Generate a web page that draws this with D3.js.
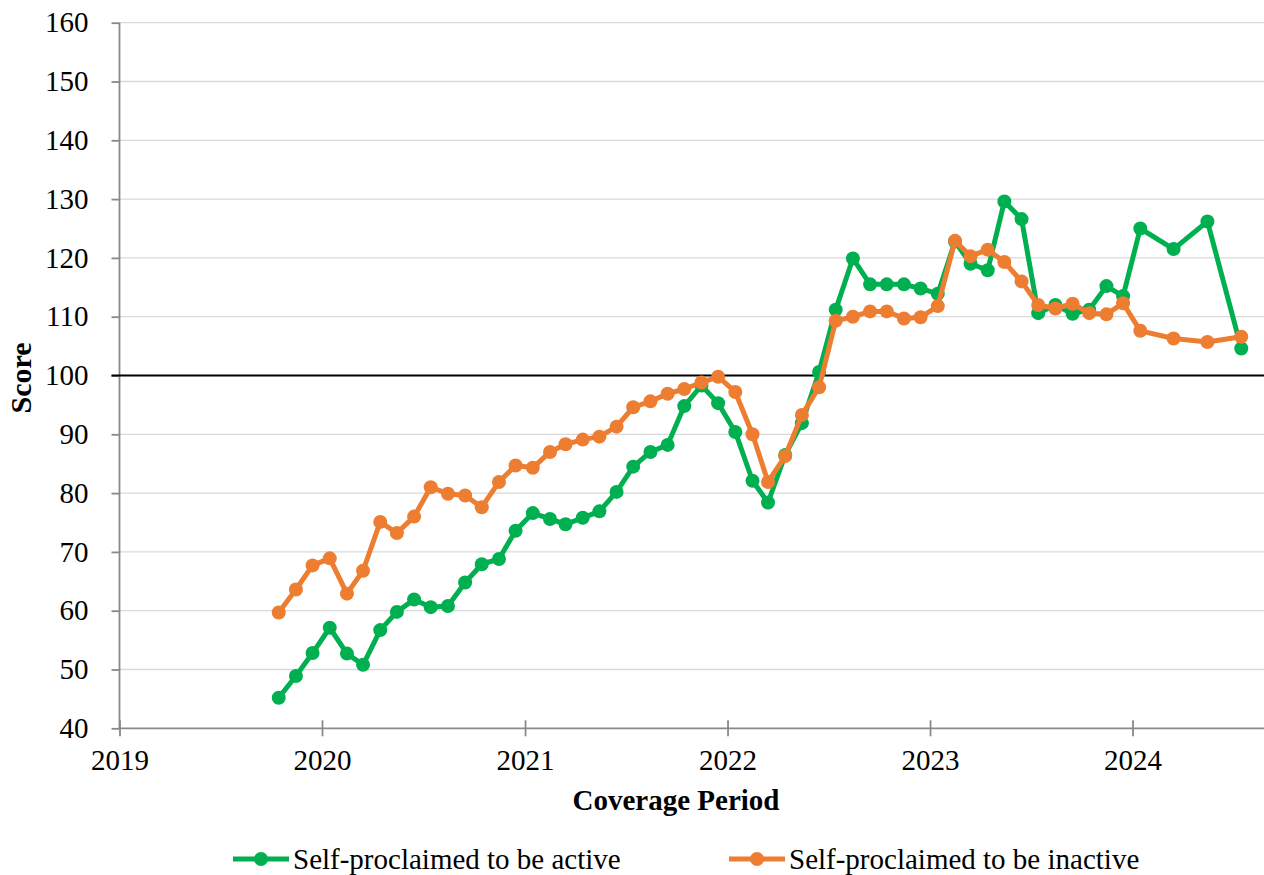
<!DOCTYPE html>
<html>
<head>
<meta charset="utf-8">
<script src="https://cdn.jsdelivr.net/npm/d3@7"></script>
<style>
  body { margin: 0; background: #fff; }
  svg text { font-family: "Liberation Serif", "Times New Roman", serif; fill: #000; }
</style>
</head>
<body>
<svg id="chart" width="1264" height="875"></svg>
<script>
// monthly coverage periods (mid-month), bi-monthly in 2024
const periods = [
  "2019-10", "2019-11", "2019-12",
  "2020-01", "2020-02", "2020-03", "2020-04", "2020-05", "2020-06",
  "2020-07", "2020-08", "2020-09", "2020-10", "2020-11", "2020-12",
  "2021-01", "2021-02", "2021-03", "2021-04", "2021-05", "2021-06",
  "2021-07", "2021-08", "2021-09", "2021-10", "2021-11", "2021-12",
  "2022-01", "2022-02", "2022-03", "2022-04", "2022-05", "2022-06",
  "2022-07", "2022-08", "2022-09", "2022-10", "2022-11", "2022-12",
  "2023-01", "2023-02", "2023-03", "2023-04", "2023-05", "2023-06",
  "2023-07", "2023-08", "2023-09", "2023-10", "2023-11", "2023-12",
  "2024-01", "2024-03", "2024-05", "2024-07"
];

const active = [
  45.2, 48.9, 52.8,
  57.1, 52.7, 50.8, 56.7, 59.8, 61.9, 60.6, 60.8, 64.8, 67.9, 68.8, 73.6,
  76.6, 75.6, 74.7, 75.8, 76.9, 80.2, 84.5, 87.0, 88.2, 94.8, 98.3, 95.3,
  90.4, 82.1, 78.4, 86.5, 91.9, 100.6, 111.2, 119.9, 115.5, 115.5, 115.5, 114.8,
  113.9, 122.8, 119.0, 117.9, 129.6, 126.6, 110.6, 112.0, 110.5, 111.2, 115.2, 113.5,
  125.0, 121.5, 126.2, 104.6
];

const inactive = [
  59.7, 63.6, 67.7,
  68.9, 62.9, 66.8, 75.1, 73.2, 76.0, 81.0, 79.9, 79.6, 77.6, 81.9, 84.7,
  84.3, 87.0, 88.3, 89.1, 89.6, 91.3, 94.6, 95.6, 96.9, 97.7, 98.8, 99.8,
  97.2, 90.0, 81.9, 86.3, 93.3, 98.0, 109.3, 110.0, 110.9, 110.9, 109.7, 109.9,
  111.8, 122.9, 120.3, 121.4, 119.3, 116.0, 112.0, 111.4, 112.2, 110.6, 110.4, 112.3,
  107.6, 106.3, 105.7, 106.6
];

const yTicks = [40, 50, 60, 70, 80, 90, 100, 110, 120, 130, 140, 150, 160];
const yearTicks = ["2019", "2020", "2021", "2022", "2023", "2024"];

const seriesNames = ["Self-proclaimed to be active", "Self-proclaimed to be inactive"];
const colors = ["#00B050", "#ED7D31"];

const parseMonth = d3.utcParse("%Y-%m");
const dates = periods.map((p) => d3.utcDay.offset(parseMonth(p), 14));

const plotLeft = 119.5, plotRight = 1264, plotTop = 22.7, plotBottom = 728.3;
const serif = '"Liberation Serif", "Times New Roman", serif';

const svg = d3.select("#chart");

const x = d3.scaleUtc()
  .domain([new Date(Date.UTC(2019, 0, 1)), new Date(Date.UTC(2024, 7, 25))])
  .range([plotLeft, plotRight]);

const y = d3.scaleLinear().domain([40, 160]).range([plotBottom, plotTop]);

// gridlines
svg.append("g")
  .selectAll("line")
  .data(yTicks.filter((t) => t !== 40 && t !== 100))
  .join("line")
  .attr("x1", plotLeft)
  .attr("x2", plotRight)
  .attr("y1", (d) => y(d))
  .attr("y2", (d) => y(d))
  .attr("stroke", "#d9d9d9")
  .attr("stroke-width", 1.3);

// y axis
const yAxis = d3.axisLeft(y).tickValues(yTicks).tickSize(8).tickPadding(23);
svg.append("g")
  .attr("transform", `translate(${plotLeft},0)`)
  .call(yAxis)
  .call((g) => g.selectAll("line, path").attr("stroke", "#898989").attr("stroke-width", 1.8))
  .call((g) => g.select(".domain").attr("d", `M0,${plotTop}V${plotBottom}`))
  .call((g) => g.selectAll("text").style("font-family", serif).style("font-size", "29px"));

// x axis, ticks crossing
const xAxis = d3.axisBottom(x)
  .tickValues(yearTicks.map((s) => d3.utcParse("%Y")(s)))
  .tickFormat(d3.utcFormat("%Y"))
  .tickSize(8)
  .tickPadding(13);
svg.append("g")
  .attr("transform", `translate(0,${plotBottom})`)
  .call(xAxis)
  .call((g) => g.selectAll("line, path").attr("stroke", "#898989").attr("stroke-width", 1.8))
  .call((g) => g.select(".domain").attr("d", `M${plotLeft},0H${plotRight}`))
  .call((g) => g.selectAll(".tick line").attr("y1", -8))
  .call((g) => g.selectAll("text").style("font-family", serif).style("font-size", "29px"));

// reference line at 100
svg.append("line")
  .attr("x1", plotLeft - 8)
  .attr("x2", plotRight)
  .attr("y1", y(100))
  .attr("y2", y(100))
  .attr("stroke", "#000")
  .attr("stroke-width", 2);

// series
const line = d3.line().x((d) => x(d.date)).y((d) => y(d.value));
[active, inactive].forEach((vals, i) => {
  const pts = vals.map((v, j) => ({ date: dates[j], value: v }));
  const g = svg.append("g");
  g.append("path")
    .datum(pts)
    .attr("d", line)
    .attr("fill", "none")
    .attr("stroke", colors[i])
    .attr("stroke-width", 5)
    .attr("stroke-linejoin", "round");
  g.selectAll("circle")
    .data(pts)
    .join("circle")
    .attr("cx", (d) => x(d.date))
    .attr("cy", (d) => y(d.value))
    .attr("r", 7)
    .attr("fill", colors[i]);
});

// axis titles
svg.append("text")
  .attr("x", 676)
  .attr("y", 810)
  .attr("text-anchor", "middle")
  .style("font-size", "29px")
  .attr("font-weight", "bold")
  .text("Coverage Period");

svg.append("text")
  .attr("transform", "translate(31,378) rotate(-90)")
  .attr("text-anchor", "middle")
  .style("font-size", "30px")
  .attr("font-weight", "bold")
  .text("Score");

// legend
const legendX = [233, 729];
seriesNames.forEach((name, i) => {
  const g = svg.append("g").attr("transform", `translate(${legendX[i]},859)`);
  g.append("line")
    .attr("x1", 0).attr("x2", 56)
    .attr("stroke", colors[i])
    .attr("stroke-width", 5);
  g.append("circle").attr("cx", 28).attr("r", 7).attr("fill", colors[i]);
  g.append("text")
    .attr("x", 60)
    .attr("y", 10)
    .style("font-size", "29px")
    .text(name);
});
</script>
</body>
</html>
